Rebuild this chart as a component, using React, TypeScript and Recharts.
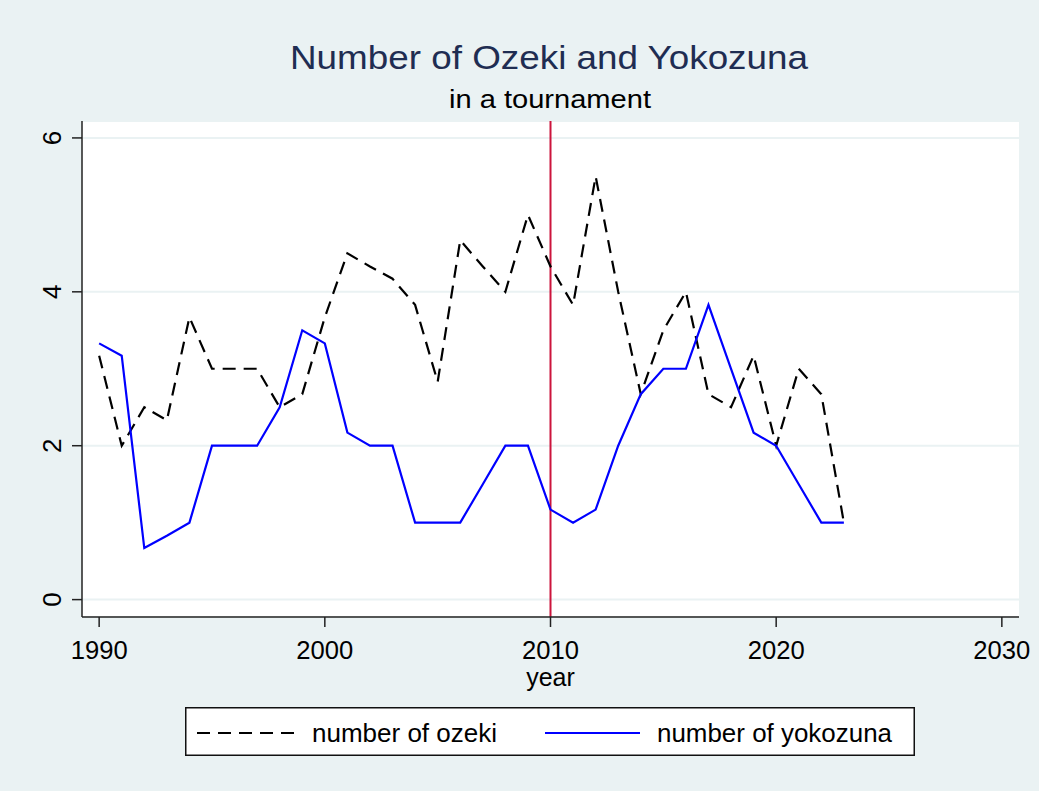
import React from "react";
import {
  LineChart,
  Line,
  XAxis,
  YAxis,
  CartesianGrid,
  ReferenceLine,
  Legend,
} from "recharts";

const years = [
  1990, 1991, 1992, 1993, 1994, 1995, 1996, 1997, 1998, 1999, 2000, 2001,
  2002, 2003, 2004, 2005, 2006, 2007, 2008, 2009, 2010, 2011, 2012, 2013,
  2014, 2015, 2016, 2017, 2018, 2019, 2020, 2021, 2022, 2023,
];

const ozeki = [
  3.17, 2.0, 2.5, 2.33, 3.67, 3.0, 3.0, 3.0, 2.5, 2.67, 3.67, 4.5, 4.33, 4.17,
  3.83, 2.83, 4.67, 4.33, 4.0, 5.0, 4.33, 3.83, 5.5, 4.0, 2.67, 3.5, 4.0, 2.67,
  2.5, 3.17, 2.0, 3.0, 2.67, 1.0,
];

const yokozuna = [
  3.33, 3.17, 0.67, 0.83, 1.0, 2.0, 2.0, 2.0, 2.5, 3.5, 3.33, 2.17, 2.0, 2.0,
  1.0, 1.0, 1.0, 1.5, 2.0, 2.0, 1.17, 1.0, 1.17, 2.0, 2.67, 3.0, 3.0, 3.83, 3.0,
  2.17, 2.0, 1.5, 1.0, 1.0,
];

const xTicks = [1990, 2000, 2010, 2020, 2030];
const yTicks = [0, 2, 4, 6];

const data = years.map((year, i) => ({
  year,
  ozeki: ozeki[i],
  yokozuna: yokozuna[i],
}));

const FONT = "'Liberation Sans', Arial, Helvetica, sans-serif";
const BG = "#EAF2F3";

const XTick = (props: any) => {
  const { x, y, payload } = props;
  return (
    <text
      x={x}
      y={y + 30}
      textAnchor="middle"
      fontSize={25}
      fontFamily={FONT}
      fill="#000"
      textLength={57}
      lengthAdjust="spacingAndGlyphs"
    >
      {payload.value}
    </text>
  );
};

const YTick = (props: any) => {
  const { x, y, payload } = props;
  const bx = x - 9;
  return (
    <text
      x={bx}
      y={y}
      transform={`rotate(-90 ${bx} ${y})`}
      textAnchor="middle"
      fontSize={26}
      fontFamily={FONT}
      fill="#000"
    >
      {payload.value}
    </text>
  );
};

const XLabel = (props: any) => {
  const vb = props.viewBox || {};
  return (
    <text
      x={vb.x + vb.width / 2}
      y={vb.y + 69}
      textAnchor="middle"
      fontSize={25}
      fontFamily={FONT}
      fill="#000"
    >
      year
    </text>
  );
};

const LegendBox = () => (
  <svg width={730} height={49} style={{ display: "block" }}>
    <rect
      x={0.75}
      y={0.75}
      width={728.5}
      height={47.5}
      fill="#fff"
      stroke="#111"
      strokeWidth={1.5}
    />
    <line
      x1={12}
      y1={26}
      x2={110}
      y2={26}
      stroke="#000"
      strokeWidth={2.2}
      strokeDasharray="13 8"
    />
    <text
      x={127}
      y={35}
      fontSize={25}
      fontFamily={FONT}
      fill="#000"
      textLength={185}
      lengthAdjust="spacingAndGlyphs"
    >
      number of ozeki
    </text>
    <line x1={360} y1={26} x2={455} y2={26} stroke="#0000FF" strokeWidth={2.2} />
    <text
      x={472}
      y={35}
      fontSize={25}
      fontFamily={FONT}
      fill="#000"
      textLength={235}
      lengthAdjust="spacingAndGlyphs"
    >
      number of yokozuna
    </text>
  </svg>
);

export default function App() {
  return (
    <div
      style={{
        position: "relative",
        width: 1039,
        height: 791,
        background: BG,
        fontFamily: FONT,
      }}
    >
      <style>{`body{margin:0;}`}</style>
      <LineChart
        width={1039}
        height={791}
        data={data}
        margin={{ top: 121, right: 20, bottom: 114, left: 22 }}
      >
        <CartesianGrid
          vertical={false}
          horizontal={true}
          fill="#ffffff"
          stroke={BG}
          strokeWidth={2}
        />
        <XAxis
          dataKey="year"
          type="number"
          domain={[1989.24, 2030.76]}
          ticks={xTicks}
          allowDataOverflow
          height={60}
          tickSize={10}
          axisLine={{ stroke: "#222", strokeWidth: 1.5 }}
          tickLine={{ stroke: "#222", strokeWidth: 1.5 }}
          tick={<XTick />}
          interval={0}
          label={<XLabel />}
        />
        <YAxis
          type="number"
          domain={[-0.226, 6.22]}
          ticks={yTicks}
          allowDataOverflow
          width={60}
          tickSize={10}
          axisLine={{ stroke: "#222", strokeWidth: 1.5 }}
          tickLine={{ stroke: "#222", strokeWidth: 1.5 }}
          tick={<YTick />}
          interval={0}
        />
        <ReferenceLine x={2010} stroke="#CC143C" strokeWidth={2} />
        <Line
          type="linear"
          dataKey="ozeki"
          name="number of ozeki"
          stroke="#000"
          strokeWidth={2.2}
          strokeDasharray="13 8"
          dot={false}
          isAnimationActive={false}
        />
        <Line
          type="linear"
          dataKey="yokozuna"
          name="number of yokozuna"
          stroke="#0000FF"
          strokeWidth={2.2}
          dot={false}
          isAnimationActive={false}
        />
        <Legend
          layout="horizontal"
          verticalAlign="middle"
          align="center"
          content={<LegendBox />}
          wrapperStyle={{
            position: "absolute",
            left: 185,
            top: 707,
            width: 730,
            height: 49,
          }}
        />
      </LineChart>
      <svg
        width={1039}
        height={120}
        style={{ position: "absolute", left: 0, top: 0, pointerEvents: "none" }}
      >
        <text
          x={549}
          y={69}
          textAnchor="middle"
          fontSize={33}
          fontFamily={FONT}
          fill="#1F2D52"
          textLength={518}
          lengthAdjust="spacingAndGlyphs"
        >
          Number of Ozeki and Yokozuna
        </text>
        <text
          x={550}
          y={108}
          textAnchor="middle"
          fontSize={26}
          fontFamily={FONT}
          fill="#000"
          textLength={202}
          lengthAdjust="spacingAndGlyphs"
        >
          in a tournament
        </text>
      </svg>
    </div>
  );
}
